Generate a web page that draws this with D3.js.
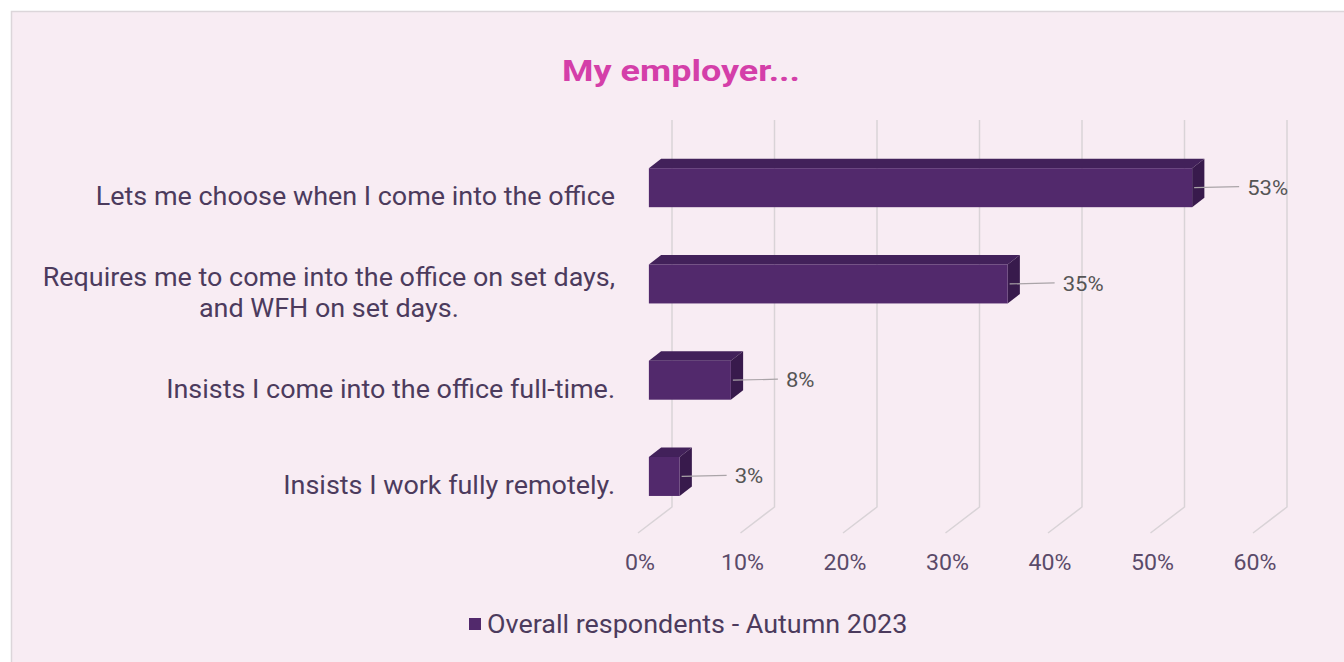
<!DOCTYPE html>
<html><head><meta charset="utf-8">
<script src="https://cdn.jsdelivr.net/npm/d3@7"></script>
<style>
html,body{margin:0;padding:0;background:#ffffff;}
svg{display:block;font-family:Roboto, "Noto Sans", sans-serif;}
</style></head>
<body>
<svg id="chart" width="1344" height="662"></svg>
<script>
const categories = [
  ["Lets me choose when I come into the office"],
  ["Requires me to come into the office on set days,", "and WFH on set days."],
  ["Insists I come into the office full-time."],
  ["Insists I work fully remotely."]
];
const values = [53, 35, 8, 3];
const tickValues = [0, 10, 20, 30, 40, 50, 60];
const seriesName = "Overall respondents - Autumn 2023";
const title = "My employer...";

const SX = 1.077; // horizontal glyph stretch of the reference
const svg = d3.select("#chart");
svg.append("rect").attr("x", 11.5).attr("y", 11.5).attr("width", 1344).attr("height", 662)
  .attr("fill", "#f8ecf3").attr("stroke", "#dcd6da").attr("stroke-width", 1.5);

function stext(g, tx, ty, anchor, size, fill, str, sx, weight) {
  return g.append("text")
    .attr("transform", `translate(${tx},${ty}) scale(${sx},1)`)
    .attr("text-anchor", anchor).attr("font-size", size).attr("fill", fill)
    .attr("font-weight", weight || "normal").text(str);
}

const depth = {dx: 34, dy: -26};
const barF = 0.32, barB = 0.68;
const floorY = 533, gridTop = 120;
const x = d3.scaleLinear().domain([0, 60]).range([638, 1253]);
const ids = categories.map((c, i) => i);
const y = d3.scaleBand().domain(ids).range([120, 544]).paddingInner(0.595).paddingOuter(0.5);

const grid = svg.append("g");
tickValues.forEach(v => {
  const xf = x(v), xb = x(v) + depth.dx, yb = floorY + depth.dy;
  grid.append("path")
    .attr("d", `M${xb},${gridTop}L${xb},${yb}L${xf},${floorY}`)
    .attr("fill", "none").attr("stroke", "#d9d3d7").attr("stroke-width", 1.5);
});

const tg = svg.append("g");
tickValues.forEach(d => stext(tg, x(d) + 2, 570, "middle", 21.5, "#5a4a69", d + "%", SX));

const fdx = depth.dx * barF, fdy = depth.dy * barF;
const bdx = depth.dx * (barB - barF), bdy = depth.dy * (barB - barF);
const bars = svg.append("g");
values.forEach((v, i) => {
  const x0 = x(0) + fdx, x1 = x(v) + fdx;
  const y0 = y(i) + fdy + 8.4, y1 = y0 + y.bandwidth();
  bars.append("path")
    .attr("d", `M${x0},${y0}L${x1},${y0}L${x1 + bdx},${y0 + bdy}L${x0 + bdx},${y0 + bdy}Z`)
    .attr("fill", "#42215a");
  bars.append("path")
    .attr("d", `M${x1},${y0}L${x1 + bdx},${y0 + bdy}L${x1 + bdx},${y1 + bdy}L${x1},${y1}Z`)
    .attr("fill", "#381a4c");
  bars.append("rect").attr("x", x0).attr("y", y0).attr("width", x1 - x0).attr("height", y1 - y0)
    .attr("fill", "#52296c");
  const cy = (y0 + y1) / 2;
  bars.append("line").attr("x1", x1 + 2).attr("x2", x1 + 47).attr("y1", cy).attr("y2", cy - 1)
    .attr("stroke", "#aaa4a8").attr("stroke-width", 1.2);
  stext(bars, x1 + 55, cy + 7, "start", 20.5, "#555555", v + "%", SX);
});

const catG = svg.append("g");
categories.forEach((lines, i) => {
  const cy = y(i) + y.bandwidth() / 2 + 8.4;
  const lh = 31;
  const startY = cy - (lines.length - 1) * lh / 2 + 9;
  let w0 = 0;
  lines.forEach((ln, j) => {
    if (j === 0) {
      const t = stext(catG, 615, startY, "end", 25, "#4c3b5d", ln, SX);
      w0 = t.node().getComputedTextLength() * SX;
    } else {
      stext(catG, 615 - w0 / 2, startY + j * lh, "middle", 25, "#4c3b5d", ln, SX);
    }
  });
});

const tt = svg.append("text").attr("x", 0).attr("y", 0).attr("text-anchor", "middle")
  .attr("font-size", 29).attr("font-weight", "bold").attr("fill", "#d43fa9").text(title);
const tw = tt.node().getComputedTextLength();
tt.attr("transform", `translate(681,81) scale(${238 / tw},1)`);

svg.append("rect").attr("x", 469).attr("y", 618).attr("width", 12).attr("height", 12).attr("fill", "#52296c");
stext(svg, 487, 633, "start", 25, "#4c3b5d", seriesName, SX);
</script>
</body></html>
